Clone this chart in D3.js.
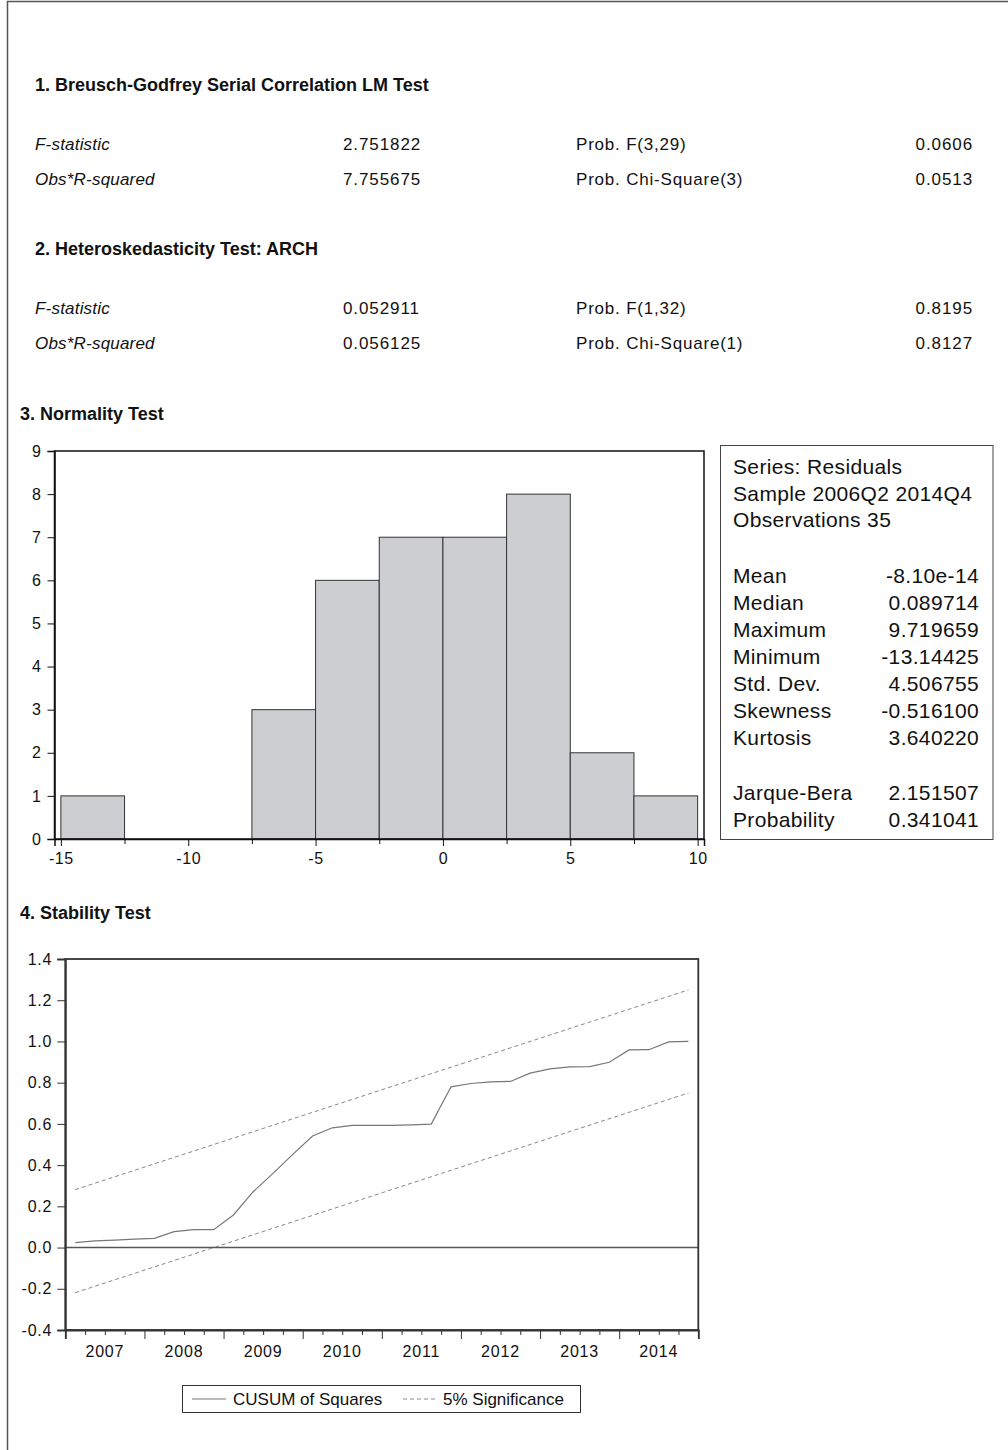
<!DOCTYPE html>
<html>
<head>
<meta charset="utf-8">
<script src="https://cdn.jsdelivr.net/npm/d3@7/dist/d3.min.js"></script>
<style>
  html, body { margin: 0; padding: 0; background: #fff; }
  svg { display: block; font-family: "Liberation Sans", Arial, Helvetica, sans-serif; }
</style>
</head>
<body>
<svg id="chart" width="1008" height="1450"></svg>
<script>
// ---------- DATA ----------
const bgHeader = "1. Breusch-Godfrey Serial Correlation LM Test";
const bgLabels = ["F-statistic", "Obs*R-squared"];
const bgValues = ["2.751822", "7.755675"];
const bgProbLabels = ["Prob. F(3,29)", "Prob. Chi-Square(3)"];
const bgProbValues = ["0.0606", "0.0513"];

const archHeader = "2. Heteroskedasticity Test: ARCH";
const archLabels = ["F-statistic", "Obs*R-squared"];
const archValues = ["0.052911", "0.056125"];
const archProbLabels = ["Prob. F(1,32)", "Prob. Chi-Square(1)"];
const archProbValues = ["0.8195", "0.8127"];

const normHeader = "3. Normality Test";
const binStarts = [-15, -12.5, -10, -7.5, -5, -2.5, 0, 2.5, 5, 7.5];
const binWidth = 2.5;
const binCounts = [1, 0, 0, 3, 6, 7, 7, 8, 2, 1];
const histXTicks = [-15, -10, -5, 0, 5, 10];
const histXMinorTicks = [-12.5, -7.5, -2.5, 2.5, 7.5];
const histYTicks = [0, 1, 2, 3, 4, 5, 6, 7, 8, 9];

const statsHeaderLines = ["Series: Residuals", "Sample 2006Q2 2014Q4", "Observations 35"];
const statsLabels = ["Mean", "Median", "Maximum", "Minimum", "Std. Dev.", "Skewness", "Kurtosis"];
const statsValues = ["-8.10e-14", "0.089714", "9.719659", "-13.14425", "4.506755", "-0.516100", "3.640220"];
const jbLabels = ["Jarque-Bera", "Probability"];
const jbValues = ["2.151507", "0.341041"];

const stabHeader = "4. Stability Test";
const years = [2007, 2008, 2009, 2010, 2011, 2012, 2013, 2014];
const quarters = ["Q1", "Q2", "Q3", "Q4"];
const cusumSq = [
  0.024, 0.032, 0.036, 0.041,
  0.045, 0.077, 0.087, 0.087,
  0.158, 0.271, 0.360, 0.452,
  0.541, 0.581, 0.593, 0.593,
  0.593, 0.595, 0.599, 0.780,
  0.796, 0.804, 0.806, 0.846,
  0.867, 0.877, 0.878, 0.899,
  0.959, 0.960, 0.998, 1.000
];
const upperBound = [0.281, 1.250];   // at first and last period
const lowerBound = [-0.219, 0.750];
const stabYTicks = [-0.4, -0.2, 0.0, 0.2, 0.4, 0.6, 0.8, 1.0, 1.2, 1.4];
const legendLabels = ["CUSUM of Squares", "5% Significance"];

// ---------- DRAW ----------
const svg = d3.select("#chart");
const FONT = '"Liberation Sans", Arial, Helvetica, sans-serif';
const hyphen = f => (v => f(v).replace("\u2212", "-"));

// outer border (left + top)
svg.append("path")
  .attr("d", "M7.5,1450 L7.5,1.5 L1008,1.5")
  .attr("fill", "none").attr("stroke", "#555").attr("stroke-width", 1.5);

function header(text, x, y) {
  svg.append("text").attr("x", x).attr("y", y)
    .attr("font-size", 18).attr("font-weight", "bold").attr("fill", "#111")
    .text(text);
}
function testBlock(labels, values, pl, pv, rowY) {
  labels.forEach((l, i) => {
    const y = rowY[i];
    const g = svg.append("g").attr("font-size", 17).attr("fill", "#111");
    g.append("text").attr("x", 35).attr("y", y).attr("font-style", "italic").attr("letter-spacing", 0.2).text(l);
    g.append("text").attr("x", 343).attr("y", y).attr("letter-spacing", 0.9).text(values[i]);
    g.append("text").attr("x", 576).attr("y", y).attr("letter-spacing", 0.8).text(pl[i]);
    g.append("text").attr("x", 973).attr("y", y).attr("text-anchor", "end").attr("letter-spacing", 0.9).text(pv[i]);
  });
}
header(bgHeader, 35, 91);
testBlock(bgLabels, bgValues, bgProbLabels, bgProbValues, [150, 185]);
header(archHeader, 35, 255);
testBlock(archLabels, archValues, archProbLabels, archProbValues, [314, 349]);

// ---------- HISTOGRAM ----------
header(normHeader, 20, 420);
const hx = d3.scaleLinear().domain([-15.25, 10.25]).range([54.5, 704]);
const hy = d3.scaleLinear().domain([0, 9]).range([839, 451]);

const hg = svg.append("g");
hg.selectAll("rect.bar").data(binStarts).join("rect")
  .attr("class", "bar")
  .attr("x", d => hx(d))
  .attr("width", d => hx(d + binWidth) - hx(d))
  .attr("y", (d, i) => hy(binCounts[i]))
  .attr("height", (d, i) => hy(0) - hy(binCounts[i]))
  .attr("fill", "#cdced1")
  .attr("stroke", "#333").attr("stroke-width", 1)
  .attr("display", (d, i) => binCounts[i] > 0 ? null : "none");

hg.append("rect")
  .attr("x", hx.range()[0]).attr("y", hy.range()[1])
  .attr("width", hx.range()[1] - hx.range()[0]).attr("height", hy.range()[0] - hy.range()[1])
  .attr("fill", "none").attr("stroke", "#111").attr("stroke-width", 1.5);

const hyAxis = hg.append("g").attr("transform", `translate(${hx.range()[0]},0)`)
  .call(d3.axisLeft(hy).tickValues(histYTicks).tickSize(7).tickPadding(6).tickFormat(hyphen(d3.format("d"))));
const hxAxis = hg.append("g").attr("transform", `translate(0,${hy.range()[0]})`)
  .call(d3.axisBottom(hx).tickValues(histXTicks).tickSize(7).tickPadding(4).tickFormat(hyphen(d3.format("d"))));
hg.append("g").attr("transform", `translate(0,${hy.range()[0]})`)
  .call(d3.axisBottom(hx).tickValues(histXMinorTicks).tickSize(5).tickFormat(""))
  .call(g => g.select(".domain").remove());
[hyAxis, hxAxis].forEach(a => {
  a.select(".domain").attr("stroke", "#111").attr("stroke-width", 1.5);
  a.selectAll("text").attr("font-size", 16).attr("letter-spacing", 0.6).attr("font-family", FONT).attr("fill", "#111");
});
hg.selectAll(".tick line").attr("stroke", "#111");
hxAxis.selectAll("text").attr("dy", "0.85em");

// stats box
const sg = svg.append("g").attr("letter-spacing", 0.35);
sg.append("rect").attr("x", 720.5).attr("y", 445.5).attr("width", 272.5).attr("height", 394)
  .attr("fill", "#fff").attr("stroke", "#444").attr("stroke-width", 1);
const lineH = 27;
const sFont = 21;
statsHeaderLines.forEach((t, i) => {
  sg.append("text").attr("x", 733).attr("y", 474 + i * 26.5).attr("font-size", sFont).attr("fill", "#111").text(t);
});
statsLabels.forEach((t, i) => {
  const y = 583 + i * lineH;
  sg.append("text").attr("x", 733).attr("y", y).attr("font-size", sFont).attr("fill", "#111").text(t);
  sg.append("text").attr("x", 979).attr("y", y).attr("text-anchor", "end").attr("font-size", sFont).attr("fill", "#111").text(statsValues[i]);
});
jbLabels.forEach((t, i) => {
  const y = 800 + i * lineH;
  sg.append("text").attr("x", 733).attr("y", y).attr("font-size", sFont).attr("fill", "#111").text(t);
  sg.append("text").attr("x", 979).attr("y", y).attr("text-anchor", "end").attr("font-size", sFont).attr("fill", "#111").text(jbValues[i]);
});

// ---------- STABILITY ----------
header(stabHeader, 20, 919);
const periods = [];
years.forEach(y => quarters.forEach(q => periods.push(y + q)));
const sx = d3.scaleLinear().domain([0, periods.length]).range([65.3, 698.3]);
const sy = d3.scaleLinear().domain([-0.4, 1.4]).range([1330, 959]);
const px = i => sx(i + 0.5);

const stg = svg.append("g");
// zero line
stg.append("line").attr("x1", sx.range()[0]).attr("x2", sx.range()[1])
  .attr("y1", sy(0)).attr("y2", sy(0)).attr("stroke", "#555").attr("stroke-width", 1.5);
// bounds
const lastI = periods.length - 1;
[upperBound, lowerBound].forEach(b => {
  stg.append("line")
    .attr("x1", px(0)).attr("y1", sy(b[0]))
    .attr("x2", px(lastI)).attr("y2", sy(b[1]))
    .attr("stroke", "#888").attr("stroke-width", 1).attr("stroke-dasharray", "4,3");
});
// cusum line
stg.append("path").datum(cusumSq)
  .attr("d", d3.line().x((d, i) => px(i)).y(d => sy(d)))
  .attr("fill", "none").attr("stroke", "#777").attr("stroke-width", 1.2);
// frame
stg.append("rect")
  .attr("x", sx.range()[0]).attr("y", sy.range()[1])
  .attr("width", sx.range()[1] - sx.range()[0]).attr("height", sy.range()[0] - sy.range()[1])
  .attr("fill", "none").attr("stroke", "#333").attr("stroke-width", 1.8);

const syAxis = stg.append("g").attr("transform", `translate(${sx.range()[0]},0)`)
  .call(d3.axisLeft(sy).tickValues(stabYTicks).tickSize(8).tickPadding(5).tickFormat(hyphen(d3.format(".1f"))));
const majorIdx = d3.range(0, periods.length + 1, 4);
const minorIdx = d3.range(0, periods.length + 1).filter(i => i % 4 !== 0);
const sxAxis = stg.append("g").attr("transform", `translate(0,${sy.range()[0]})`)
  .call(d3.axisBottom(sx).tickValues(majorIdx).tickSize(9).tickFormat(""));
stg.append("g").attr("transform", `translate(0,${sy.range()[0]})`)
  .call(d3.axisBottom(sx).tickValues(minorIdx).tickSize(5).tickFormat(""))
  .call(g => g.select(".domain").remove());
// year labels centered
stg.append("g").selectAll("text").data(years).join("text")
  .attr("x", (d, i) => sx(i * 4 + 2)).attr("y", 1357)
  .attr("text-anchor", "middle").attr("font-size", 16).attr("letter-spacing", 0.8).attr("fill", "#111")
  .text(d => d);
[syAxis, sxAxis].forEach(a => a.select(".domain").attr("stroke", "#333").attr("stroke-width", 1.8));
syAxis.selectAll("text").attr("font-size", 16).attr("letter-spacing", 0.8).attr("font-family", FONT).attr("fill", "#111");
stg.selectAll(".tick line").attr("stroke", "#333");

// legend
const lg = svg.append("g").attr("font-size", 17).attr("fill", "#111");
lg.append("rect").attr("x", 182.5).attr("y", 1385.5).attr("width", 398).attr("height", 27)
  .attr("fill", "#fff").attr("stroke", "#333").attr("stroke-width", 1);
lg.append("line").attr("x1", 192).attr("x2", 226).attr("y1", 1399).attr("y2", 1399)
  .attr("stroke", "#777").attr("stroke-width", 1.2);
lg.append("text").attr("x", 233).attr("y", 1405).text(legendLabels[0]);
lg.append("line").attr("x1", 403).attr("x2", 437).attr("y1", 1399).attr("y2", 1399)
  .attr("stroke", "#888").attr("stroke-width", 1).attr("stroke-dasharray", "4,3");
lg.append("text").attr("x", 443).attr("y", 1405).text(legendLabels[1]);
</script>
</body>
</html>
